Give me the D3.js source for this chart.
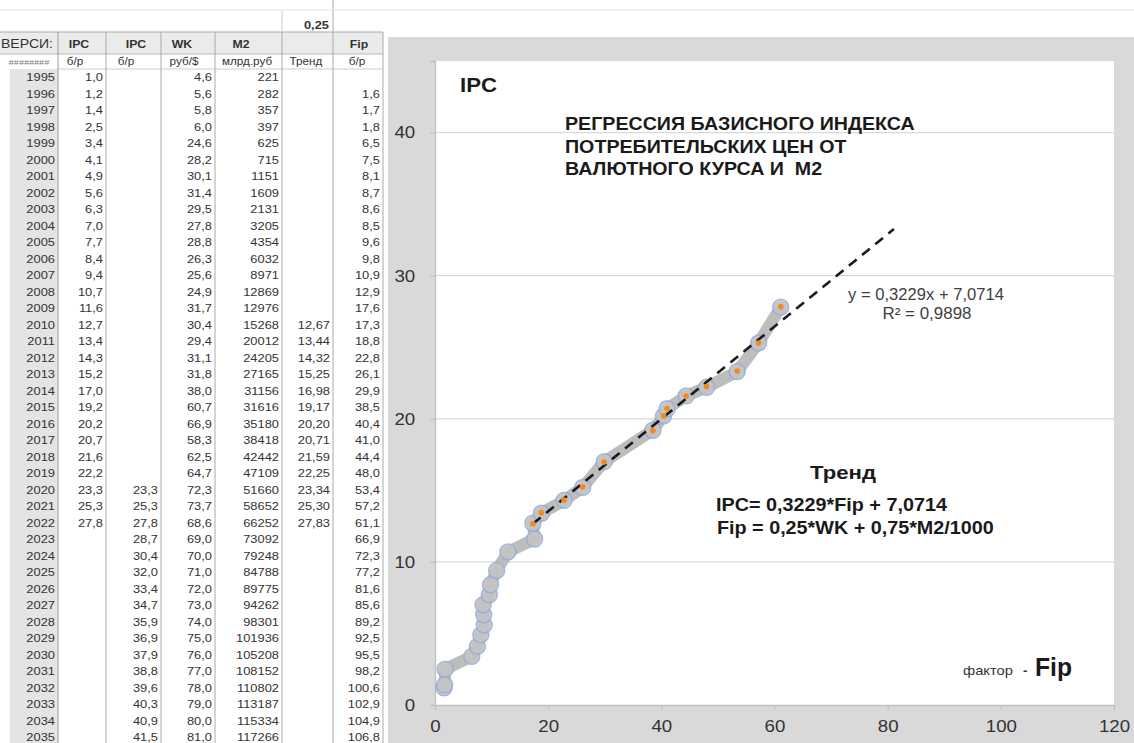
<!DOCTYPE html>
<html><head><meta charset="utf-8">
<script src="https://cdn.jsdelivr.net/npm/d3@7"></script>
<style>body{margin:0;background:#fff;}svg{display:block;font-family:"Liberation Sans",Arial,sans-serif;}text{white-space:pre;}</style>
</head><body>
<svg id="c" width="1134" height="743"></svg>
<script>
// ---- data ----
const years = d3.range(1995, 2036);
const ipc   = [1.0,1.2,1.4,2.5,3.4,4.1,4.9,5.6,6.3,7.0,7.7,8.4,9.4,10.7,11.6,12.7,13.4,14.3,15.2,17.0,19.2,20.2,20.7,21.6,22.2,23.3,25.3,27.8];
const ipc2Start = 2020;
const ipc2  = [23.3,25.3,27.8,28.7,30.4,32.0,33.4,34.7,35.9,36.9,37.9,38.8,39.6,40.3,40.9,41.5];
const wk    = [4.6,5.6,5.8,6.0,24.6,28.2,30.1,31.4,29.5,27.8,28.8,26.3,25.6,24.9,31.7,30.4,29.4,31.1,31.8,38.0,60.7,66.9,58.3,62.5,64.7,72.3,73.7,68.6,69.0,70.0,71.0,72.0,73.0,74.0,75.0,76.0,77.0,78.0,79.0,80.0,81.0];
const m2    = [221,282,357,397,625,715,1151,1609,2131,3205,4354,6032,8971,12869,12976,15268,20012,24205,27165,31156,31616,35180,38418,42442,47109,51660,58652,66252,73092,79248,84788,89775,94262,98301,101936,105208,108152,110802,113187,115334,117266];
const trendStart = 2010;
const trend = [12.67,13.44,14.32,15.25,16.98,19.17,20.20,20.71,21.59,22.25,23.34,25.30,27.83];
const fipStart = 1996;
const fip   = [1.6,1.7,1.8,6.5,7.5,8.1,8.7,8.6,8.5,9.6,9.8,10.9,12.9,17.6,17.3,18.8,22.8,26.1,29.9,38.5,40.4,41.0,44.4,48.0,53.4,57.2,61.1,66.9,72.3,77.2,81.6,85.6,89.2,92.5,95.5,98.2,100.6,102.9,104.9,106.8];
const slope = 0.3229, intercept = 7.0714, forward = 20;
const xTicks = [0,20,40,60,80,100,120];
const yTicks = [0,10,20,30,40];
const headers = ["ВЕРСИ:", "IPC", "IPC", "WK", "M2", "", "Fip"];
const units   = ["########", "б/р", "б/р", "руб/$", "млрд.руб", "Тренд", "б/р"];
const weight = 0.25;

const fmt1 = v => v.toFixed(1).replace(".", ",");
const fmt2 = v => v.toFixed(2).replace(".", ",");
const svg = d3.select("#c");

// stretched text helper: (g, x, y, text, size, weight, anchor, fill, stretch or targetWidth)
function st(g, xx, yy, txt, size, wt, anchor, fill, sx, target){
  const t = g.append("text").attr("x",0).attr("y",0).attr("text-anchor",anchor||"start")
    .attr("font-weight",wt||"normal").attr("fill",fill||"#1a1a1a").style("font-size",size+"px").text(txt);
  if (target){ const w = t.node().getComputedTextLength(); sx = target / w; }
  t.attr("transform",`translate(${xx},${yy}) scale(${sx||1},1)`);
  return t;
}

// ---- spreadsheet ----
const colEdges = [0,58,106,161,215,282,333,383];
const headCx = [1,79,136,182,241,0,359];
const unitCx = [29,75,126,184,247,306,357];
const rowH = 16.5, row0 = 69, tsx = 1.17;
const tbl = svg.append("g");
svg.append("line").attr("x1",0).attr("x2",1134).attr("y1",10).attr("y2",10).attr("stroke","#e2e2e2");
tbl.append("rect").attr("x",10).attr("y",row0).attr("width",48).attr("height",743-row0).attr("fill","#e4e4e4");
tbl.append("rect").attr("x",0).attr("y",32).attr("width",383).attr("height",22).attr("fill","#ebebeb");
tbl.append("line").attr("x1",0).attr("x2",383).attr("y1",32).attr("y2",32).attr("stroke","#aaa");
tbl.append("line").attr("x1",0).attr("x2",383).attr("y1",54).attr("y2",54).attr("stroke","#bbb");
tbl.append("line").attr("x1",58).attr("x2",383).attr("y1",69).attr("y2",69).attr("stroke","#ccc");
colEdges.slice(1).forEach((x,i)=>{
  tbl.append("line").attr("x1",x).attr("x2",x).attr("y1", x===333?0:32).attr("y2",743)
    .attr("stroke", i===0?"#999":"#aaa").attr("stroke-width",1);
});
tbl.append("line").attr("x1",282).attr("x2",282).attr("y1",10).attr("y2",32).attr("stroke","#ccc");
st(tbl, 329, 29, fmt2(weight), 11, "bold", "end", "#333", tsx);
headers.forEach((h,i)=>{
  if (!h) return;
  st(tbl, headCx[i], 48, h, i===0?12:10.5, i===0?"normal":"bold", i===0?"start":"middle", "#333", tsx);
});
units.forEach((u,i)=>{
  st(tbl, unitCx[i], 65, u, i===0?7:10, "normal", "middle", i===0?"#777":"#333", i===0?1.3:tsx);
});
years.forEach((yr,i)=>{
  const yb = row0 + i*rowH + 12;
  const cell = (col, txt) => st(tbl, colEdges[col+1]-3, yb, String(txt), 11, "normal", "end", "#333", tsx);
  cell(0, yr);
  if (i < ipc.length) cell(1, fmt1(ipc[i]));
  const j2 = yr - ipc2Start; if (j2>=0 && j2<ipc2.length) cell(2, fmt1(ipc2[j2]));
  cell(3, fmt1(wk[i]));
  cell(4, m2[i]);
  const jt = yr - trendStart; if (jt>=0 && jt<trend.length) cell(5, fmt2(trend[jt]));
  const jf = yr - fipStart; if (jf>=0 && jf<fip.length) cell(6, fmt1(fip[jf]));
});

// ---- chart ----
svg.append("rect").attr("x",388).attr("y",37).attr("width",746).attr("height",706).attr("fill","#d9d9d9");
const x = d3.scaleLinear().domain([0,120]).range([435,1114]);
const y = d3.scaleLinear().domain([0,45]).range([705,61]);
svg.append("rect").attr("x",x(0)).attr("y",y(45)).attr("width",x(120)-x(0)).attr("height",y(0)-y(45)).attr("fill","#fff");
svg.append("g").selectAll("line").data(yTicks.filter(d=>d>0)).join("line")
  .attr("x1",x(0)).attr("x2",x(120)).attr("y1",d=>y(d)).attr("y2",d=>y(d)).attr("stroke","#d9d9d9").attr("stroke-width",1.3);
const xAxis = svg.append("g").attr("transform",`translate(0,${y(0)})`).call(d3.axisBottom(x).tickValues(xTicks).tickSize(5).tickPadding(10));
const yAxis = svg.append("g").attr("transform",`translate(${x(0)},0)`).call(d3.axisLeft(y).tickValues(yTicks).tickSize(5).tickPadding(13));
[xAxis,yAxis].forEach(a=>{
  a.select(".domain").attr("stroke","#bfbfbf").attr("stroke-width",1.3);
  a.selectAll(".tick line").attr("stroke","#bfbfbf");
  a.selectAll(".tick text").attr("fill","#333").style("font-size","17px").style("font-family","'Liberation Sans',Arial,sans-serif")
    .attr("transform","scale(1.1,1)");
});

// series
const pts = fip.slice(0, ipc.length-1).map((f,i)=>({x:f, y:ipc[i+1]}));
const line = d3.line().x(d=>x(d.x)).y(d=>y(d.y));
svg.append("path").datum(pts).attr("d",line).attr("fill","none").attr("stroke","#bdbdbd").attr("stroke-width",12)
  .attr("stroke-linejoin","round").attr("stroke-linecap","round");
svg.append("g").selectAll("circle").data(pts).join("circle")
  .attr("cx",d=>x(d.x)).attr("cy",d=>y(d.y)).attr("r",8)
  .attr("fill","#c4c4c4").attr("fill-opacity",0.85).attr("stroke","#8faadc").attr("stroke-width",1.4).attr("stroke-opacity",0.8);
const tpts = trend.map((t,i)=>({x:fip[trendStart-fipStart+i], y:t}));
const tx0 = d3.min(tpts,d=>d.x), tx1 = d3.max(tpts,d=>d.x)+forward;
svg.append("line").attr("x1",x(tx0)).attr("y1",y(slope*tx0+intercept)).attr("x2",x(tx1)).attr("y2",y(slope*tx1+intercept))
  .attr("stroke","#1a1a1a").attr("stroke-width",2.6).attr("stroke-dasharray","10,7");
svg.append("g").selectAll("circle").data(tpts).join("circle")
  .attr("cx",d=>x(d.x)).attr("cy",d=>y(d.y)).attr("r",2.8).attr("fill","#f08a24");

// annotations
const ann = svg.append("g");
st(ann, 460, 92, "IPC", 21, "bold", "start", "#1a1a1a", null, 37);
const t1 = st(ann, 565, 130, "РЕГРЕССИЯ БАЗИСНОГО ИНДЕКСА", 19, "bold", "start", "#1a1a1a", null, 350);
const tsc = +t1.attr("transform").match(/scale\(([\d.]+)/)[1];
st(ann, 565, 153, "ПОТРЕБИТЕЛЬСКИХ ЦЕН ОТ", 19, "bold", "start", "#1a1a1a", tsc);
st(ann, 565, 175, "ВАЛЮТНОГО КУРСА И  M2", 19, "bold", "start", "#1a1a1a", tsc);
st(ann, 926, 300, "y = 0,3229x + 7,0714", 16, "normal", "middle", "#404040", null, 156);
st(ann, 927, 319, "R² = 0,9898", 16, "normal", "middle", "#404040", null, 89);
st(ann, 843, 479, "Тренд", 19, "bold", "middle", "#1a1a1a", null, 66);
st(ann, 716, 511, "IPC= 0,3229*Fip + 7,0714", 18, "bold", "start", "#1a1a1a", null, 231);
st(ann, 717, 534, "Fip = 0,25*WK + 0,75*M2/1000", 18, "bold", "start", "#1a1a1a", null, 277);
st(ann, 963, 675, "фактор", 12.5, "normal", "start", "#333", null, 50);
st(ann, 1023, 675, "-", 13, "bold", "start", "#333", 1);
st(ann, 1035, 676, "Fip", 25, "bold", "start", "#1a1a1a", null, 37);
</script>
</body></html>
